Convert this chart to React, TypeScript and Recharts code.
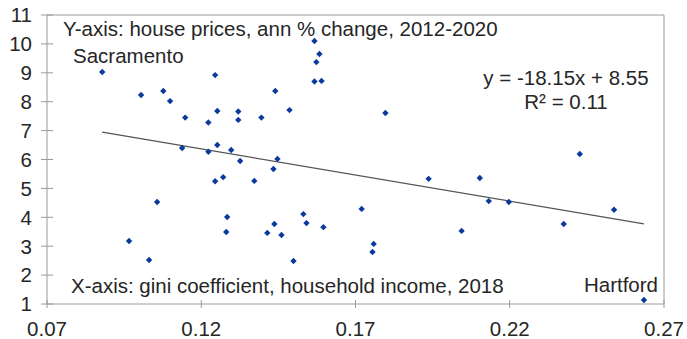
import { ScatterChart, Scatter, XAxis, YAxis, ReferenceLine } from 'recharts';

// gini coefficient (2018) and house price growth (ann %, 2012-2020) per metro
const giniValues = [
    0.0879, 0.1005, 0.1077, 0.1099, 0.1148, 0.1223, 0.1245, 0.1252, 0.132, 0.132,
    0.1395, 0.144, 0.1486, 0.1567, 0.1583, 0.1573, 0.1567, 0.159, 0.1797, 0.1138,
    0.1223, 0.1252, 0.1297, 0.1326, 0.1447, 0.1434, 0.1245, 0.1271, 0.1372, 0.1057,
    0.1284, 0.1281, 0.0966, 0.1031, 0.1531, 0.1541, 0.1596, 0.1437, 0.1414, 0.146,
    0.1499, 0.172, 0.1759, 0.1755, 0.1937, 0.2103, 0.2132, 0.2197, 0.2044, 0.2375,
    0.2538, 0.2635, 0.2427,
];
const priceChange = [
    9.03, 8.23, 8.37, 8.02, 7.45, 7.28, 8.92, 7.68, 7.66, 7.37,
    7.45, 8.37, 7.71, 10.1, 9.65, 9.37, 8.7, 8.72, 7.61, 6.4,
    6.27, 6.5, 6.33, 5.95, 6.02, 5.67, 5.25, 5.39, 5.26, 4.53,
    4.01, 3.49, 3.18, 2.52, 4.11, 3.8, 3.66, 3.77, 3.46, 3.39,
    2.49, 4.29, 3.08, 2.8, 5.33, 5.36, 4.56, 4.53, 3.53, 3.77,
    4.26, 1.14, 6.19,
];

// linear trend end points (y = -18.15x + 8.55)
const trendX = [0.0879, 0.2635];
const trendY = [6.95, 3.77];

const xTicks = [0.07, 0.12, 0.17, 0.22, 0.27];
const yTicks = [1, 2, 3, 4, 5, 6, 7, 8, 9, 10, 11];

const points = giniValues.map((x, i) => ({ x, y: priceChange[i] }));
const trend = trendX.map((x, i) => ({ x, y: trendY[i] }));

const FONT = '"Liberation Sans", Arial, sans-serif';
const AXIS = '#9a9a9a';
const TEXT = '#262626';

const Diamond = (props: any) => {
    const { cx, cy } = props;
    const r = 3.2;
    return (
        <polygon
            points={`${cx},${cy - r} ${cx + r},${cy} ${cx},${cy + r} ${cx - r},${cy}`}
            fill="#0b3a9c"
        />
    );
};

const YTick = (props: any) => {
    const { x, y, payload } = props;
    const ax = x + 15;
    return (
        <g>
            <line x1={ax - 6} x2={ax + 6} y1={y} y2={y} stroke={AXIS} />
            <text x={x} y={y} dy="0.36em" textAnchor="end" fill={TEXT} fontSize={20.5} fontFamily={FONT}>
                {payload.value}
            </text>
        </g>
    );
};

const XTick = (props: any) => {
    const { x, y, payload } = props;
    const ay = y - 17;
    return (
        <g>
            <line x1={x} x2={x} y1={ay - 4} y2={ay + 4} stroke={AXIS} />
            <text x={x} y={y} dy="0.71em" textAnchor="middle" fill={TEXT} fontSize={20.5} fontFamily={FONT}>
                {payload.value.toFixed(2)}
            </text>
        </g>
    );
};

const App = () => {
    return (
        <div style={{ position: 'absolute', left: 0, top: 0, width: 687, height: 339, background: '#fff' }}>
            <ScatterChart width={687} height={339} margin={{ top: 15, right: 23, bottom: 0, left: 0 }}>
                <XAxis
                    type="number"
                    dataKey="x"
                    domain={[0.07, 0.27]}
                    ticks={xTicks}
                    allowDataOverflow
                    height={35}
                    stroke={AXIS}
                    tickLine={false}
                    tickSize={4}
                    tickMargin={13}
                    tick={XTick}
                />
                <YAxis
                    type="number"
                    dataKey="y"
                    domain={[1, 11]}
                    ticks={yTicks}
                    allowDataOverflow
                    width={47}
                    stroke={AXIS}
                    tickLine={false}
                    tickSize={6}
                    tickMargin={9}
                    tick={YTick}
                />
                <ReferenceLine y={11} stroke={AXIS} />
                <ReferenceLine x={0.27} stroke={AXIS} />
                <Scatter
                    data={trend}
                    line={{ stroke: '#555', strokeWidth: 1.2 }}
                    shape={() => <g />}
                    isAnimationActive={false}
                />
                <Scatter data={points} shape={Diamond} isAnimationActive={false} />
            </ScatterChart>
            <svg
                width={687}
                height={339}
                style={{ position: 'absolute', left: 0, top: 0, pointerEvents: 'none' }}
                fontFamily={FONT}
                fontSize={20.5}
                fill={TEXT}
            >
                <text x={63} y={36}>Y-axis: house prices, ann % change, 2012-2020</text>
                <text x={73} y={63}>Sacramento</text>
                <text x={566} y={85} textAnchor="middle">y = -18.15x + 8.55</text>
                <text x={566} y={109} textAnchor="middle">R² = 0.11</text>
                <text x={71} y={293}>X-axis: gini coefficient, household income, 2018</text>
                <text x={658} y={292} textAnchor="end">Hartford</text>
            </svg>
        </div>
    );
};

export default App;
